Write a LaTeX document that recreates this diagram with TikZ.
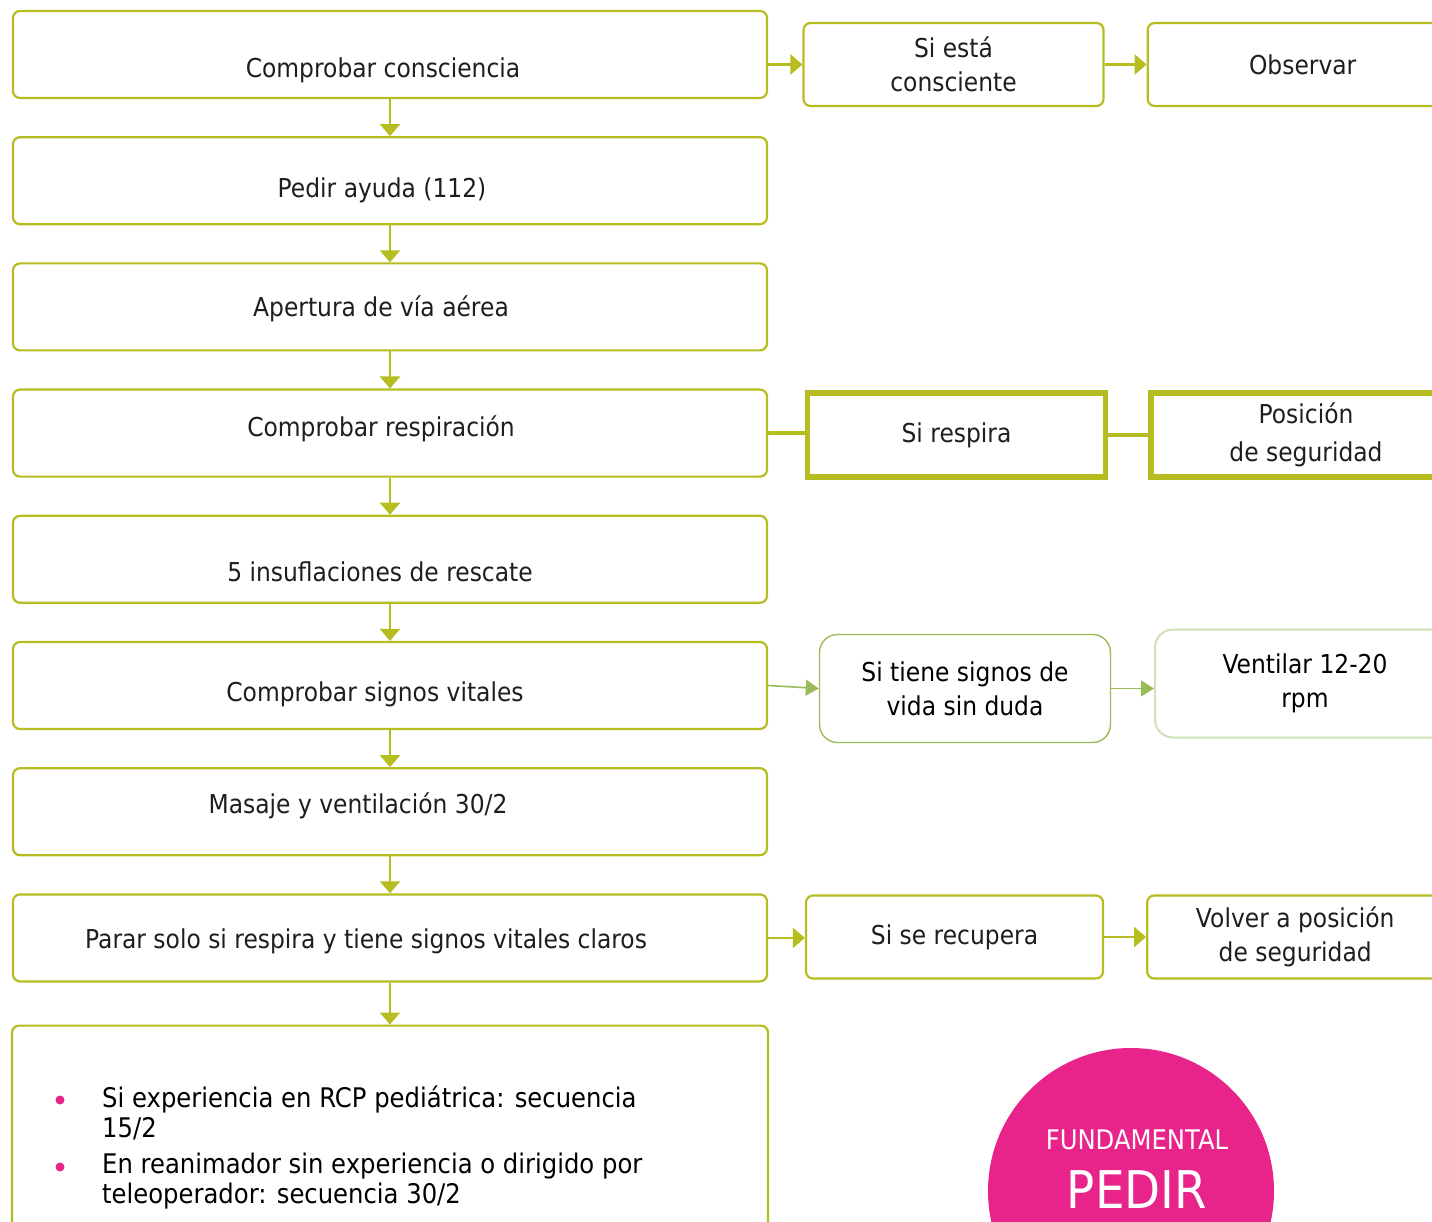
\documentclass[tikz,border=0pt]{standalone}
\usepackage{fontspec}
\setmainfont[FakeStretch=0.9]{DejaVu Sans}
\usetikzlibrary{positioning}
\usetikzlibrary{arrows.meta}

\definecolor{lima}{RGB}{181,189,32}
\definecolor{verde}{RGB}{155,187,89}
\definecolor{verdeclaro}{RGB}{208,224,186}
\definecolor{rosa}{RGB}{232,35,138}
\definecolor{texto}{RGB}{30,30,30}

\tikzset{
  paso/.style={font=\fontsize{26}{34}\selectfont, text=texto, inner sep=0pt},
  box/.style={draw=lima, line width=2.2pt, rounded corners=7pt, fill=white,
    minimum width=754pt, minimum height=87pt},
  lado/.style={box, paso, align=center, minimum width=300pt, minimum height=83pt},
  gruesa/.style={paso, align=center, draw=lima, line width=5.5pt,
    minimum width=298pt, minimum height=84pt},
  vida/.style={paso, text=black, align=center, draw=verde, line width=1.4pt,
    rounded corners=18pt, minimum width=291pt, minimum height=108pt},
  item/.style={font=\fontsize{27}{29.5}\selectfont, text=black, align=left, inner sep=0pt},
  punto/.style={circle, fill=rosa, minimum size=9pt, inner sep=0pt},
  rotulo/.style={text=white, inner sep=0pt},
  flecha/.style={draw=lima, line width=2.6pt, -{Triangle[length=12pt,width=20pt]}},
  flechavida/.style={draw=verde, line width=1.6pt, -{Triangle[length=13pt,width=16pt]}},
  linea/.style={draw=lima, line width=4pt},
}

\begin{document}
\begin{tikzpicture}[x=1pt, y=-1pt]
  \useasboundingbox (0,0) rectangle (1432,1222);

  % main column
  \node[box, label={[paso, xshift=-7pt, yshift=-16pt]center:Comprobar consciencia}] (b1) at (390,54.5) {};
  \node[box, below=37pt of b1, label={[paso, xshift=-8pt, yshift=-10pt]center:Pedir ayuda (112)}] (b2) {};
  \node[box, below=37pt of b2, label={[paso, xshift=-9pt, yshift=-2pt]center:Apertura de vía aérea}] (b3) {};
  \node[box, below=37pt of b3, label={[paso, xshift=-9pt, yshift=4pt]center:Comprobar respiración}] (b4) {};
  \node[box, below=37pt of b4, label={[paso, xshift=-10pt, yshift=-13pt]center:5 insuflaciones de rescate}] (b5) {};
  \node[box, below=37pt of b5, label={[paso, xshift=-15pt, yshift=-9pt]center:Comprobar signos vitales}] (b6) {};
  \node[box, below=37pt of b6, label={[paso, xshift=-32pt, yshift=6pt]center:Masaje y ventilación 30/2}] (b7) {};
  \node[box, below=37pt of b7, label={[paso, xshift=-24pt, yshift=-3pt]center:Parar solo si respira y tiene signos vitales claros}] (b8) {};
  \node[box, below=42pt of b8, minimum width=756pt, minimum height=260pt] (b9) {};
  \foreach \a/\b in {b1/b2, b2/b3, b3/b4, b4/b5, b5/b6, b6/b7, b7/b8, b8/b9}
    \draw[flecha] (\a) -- (\b);

  % consciente
  \node[lado] (consc) at (953.5,64.5) {Si está\\consciente};
  \node[lado, right=42pt of consc, minimum width=310pt] (observar) {Observar};
  \draw[flecha] (b1.east |- consc.west) -- (consc.west);
  \draw[flecha] (consc) -- (observar);

  % respira
  \node[gruesa] (respira) at (956.5,435) {Si respira};
  \node[gruesa, right=40pt of respira, minimum width=310pt, font=\fontsize{26}{38}\selectfont] (posicion) {Posición\\de seguridad};
  \draw[linea] (b4.east) -- (b4.east -| respira.west);
  \draw[linea] (respira) -- (posicion);

  % signos de vida
  \node[vida] (signos) at (965,688.5) {Si tiene signos de\\vida sin duda};
  \node[vida, draw=verdeclaro, line width=2pt, minimum width=300pt] (ventilar) at (1305,683.5) {Ventilar 12-20\\rpm};
  \draw[flechavida] (b6.east) -- (signos.west);
  \draw[flechavida] (signos.east) -- (signos.east -| ventilar.west);

  % recupera
  \node[lado, minimum width=297pt] (recupera) at (954.5,937) {Si se recupera};
  \node[lado, right=42pt of recupera, minimum width=296pt] (volver) {Volver a posición\\de seguridad};
  \draw[flecha] (b8.east) -- (b8.east -| recupera.west);
  \draw[flecha] (recupera) -- (volver);

  % secuencias
  \node[punto] (p1) at (60,1100) {};
  \node[punto] (p2) at (60,1167) {};
  \node[item, anchor=west] (i1) at (102,1113) {Si experiencia en RCP pediátrica: secuencia\\15/2};
  \node[item, anchor=west] (i2) at (102,1181) {En reanimador sin experiencia o dirigido por\\teleoperador: secuencia 30/2};

  % fundamental
  \node[circle, fill=rosa, minimum size=286pt, inner sep=0pt] (fund) at (1131,1191) {};
  \node[rotulo, font=\fontsize{27}{30}\selectfont] (fund-a) at (1137,1140) {FUNDAMENTAL};
  \node[rotulo, font=\fontsize{52}{58}\selectfont] (fund-b) at (1137,1190) {PEDIR};

\end{tikzpicture}
\end{document}
